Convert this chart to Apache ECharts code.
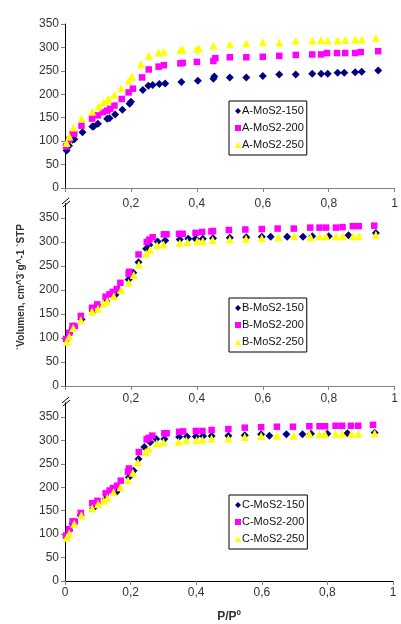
<!DOCTYPE html>
<html>
<head>
<meta charset="utf-8">
<script src="https://cdn.jsdelivr.net/npm/echarts@6/dist/echarts.min.js"></script>
<style>
html,body{margin:0;padding:0;background:#fff;}
#chart{width:401px;height:624px;}
</style>
</head>
<body>
<div id="chart"></div>
<script>
// ---- data: [P/P0, volume] ----
const A150 = [[0.005,80],[0.012,90],[0.023,103],[0.028,104],[0.053,119],[0.083,131],[0.087,131],[0.1,137],[0.128,148],[0.135,149],[0.152,157],[0.174,167],[0.196,180],[0.2,184],[0.236,209],[0.253,218],[0.266,220],[0.286,222],[0.304,223],[0.353,226],[0.403,229],[0.45,233],[0.453,238],[0.5,236],[0.55,236],[0.6,239],[0.65,242],[0.7,242],[0.75,244],[0.777,244],[0.797,244],[0.827,246],[0.847,246],[0.88,247],[0.9,248],[0.95,251]];
const A200 = [[0.003,89],[0.013,103],[0.023,116],[0.028,116],[0.05,133],[0.082,148],[0.1,155],[0.115,162],[0.128,165],[0.137,169],[0.15,176],[0.172,190],[0.193,204],[0.206,212],[0.234,236],[0.254,253],[0.284,259],[0.3,262],[0.35,266],[0.357,267],[0.4,269],[0.45,271],[0.456,277],[0.5,279],[0.55,279],[0.6,280],[0.65,282],[0.7,284],[0.75,285],[0.777,285],[0.795,288],[0.825,288],[0.85,288],[0.88,288],[0.897,290],[0.95,292]];
const A250 = [[0.005,96],[0.013,110],[0.025,129],[0.05,148],[0.082,163],[0.102,174],[0.117,183],[0.128,187],[0.133,190],[0.15,199],[0.17,213],[0.193,229],[0.203,238],[0.23,264],[0.254,282],[0.284,289],[0.3,291],[0.35,295],[0.357,295],[0.4,297],[0.407,297],[0.45,304],[0.5,307],[0.55,309],[0.6,311],[0.65,310],[0.7,314],[0.75,315],[0.777,316],[0.797,315],[0.827,315],[0.85,316],[0.88,317],[0.9,317],[0.943,320]];

const B150 = [[0.005,98],[0.013,110],[0.023,121],[0.05,139],[0.085,155],[0.1,167],[0.125,177],[0.153,190],[0.193,222],[0.207,236],[0.223,258],[0.246,286],[0.256,294],[0.281,301],[0.304,303],[0.348,305],[0.374,307],[0.396,307],[0.418,307],[0.449,308],[0.5,309],[0.55,310],[0.597,311],[0.624,311],[0.674,311],[0.722,311],[0.75,312],[0.8,312],[0.86,314],[0.943,319]];
const B200 = [[0.003,98],[0.013,111],[0.023,125],[0.03,125],[0.048,146],[0.082,163],[0.098,170],[0.123,186],[0.135,191],[0.145,196],[0.157,202],[0.168,215],[0.193,234],[0.195,238],[0.223,274],[0.248,300],[0.256,305],[0.266,310],[0.3,316],[0.308,316],[0.346,317],[0.357,317],[0.396,319],[0.416,321],[0.444,322],[0.449,323],[0.497,325],[0.547,326],[0.597,327],[0.645,328],[0.694,328],[0.744,330],[0.772,330],[0.792,330],[0.822,330],[0.842,331],[0.873,333],[0.891,333],[0.938,334]];
const B250 = [[0.005,92],[0.013,103],[0.025,121],[0.048,137],[0.082,155],[0.1,161],[0.117,172],[0.128,177],[0.148,187],[0.17,200],[0.193,215],[0.209,231],[0.224,253],[0.246,276],[0.258,284],[0.279,293],[0.299,295],[0.348,298],[0.371,300],[0.401,302],[0.418,302],[0.448,304],[0.5,305],[0.549,307],[0.597,308],[0.647,310],[0.695,312],[0.745,310],[0.772,312],[0.792,312],[0.822,312],[0.842,312],[0.873,312],[0.891,312],[0.943,315]];

const C150 = [[0.005,97],[0.013,108],[0.023,122],[0.048,140],[0.086,155],[0.124,175],[0.157,190],[0.195,221],[0.209,235],[0.224,260],[0.242,286],[0.26,296],[0.278,303],[0.303,303],[0.348,307],[0.372,308],[0.399,308],[0.421,309],[0.447,309],[0.498,310],[0.548,311],[0.598,313],[0.623,310],[0.675,313],[0.724,313],[0.75,314],[0.8,314],[0.861,315],[0.944,316]];
const C200 = [[0.003,97],[0.013,111],[0.023,127],[0.03,127],[0.048,145],[0.083,166],[0.099,171],[0.124,187],[0.136,193],[0.146,198],[0.159,203],[0.17,214],[0.192,233],[0.195,240],[0.225,275],[0.249,302],[0.255,305],[0.266,310],[0.303,315],[0.31,315],[0.348,318],[0.36,319],[0.399,320],[0.419,320],[0.447,322],[0.498,324],[0.548,327],[0.598,328],[0.646,329],[0.695,329],[0.745,330],[0.776,330],[0.793,330],[0.825,331],[0.845,331],[0.872,331],[0.894,331],[0.939,333]];
const C250 = [[0.005,92],[0.013,102],[0.028,122],[0.05,140],[0.083,155],[0.101,164],[0.118,171],[0.129,177],[0.148,189],[0.169,200],[0.192,215],[0.207,231],[0.222,253],[0.245,275],[0.255,282],[0.28,294],[0.3,296],[0.346,297],[0.37,300],[0.401,300],[0.419,301],[0.447,304],[0.498,304],[0.548,307],[0.598,309],[0.646,310],[0.697,310],[0.745,314],[0.776,313],[0.793,313],[0.825,314],[0.845,314],[0.873,314],[0.894,314],[0.944,315]];

const yTicks = [0,50,100,150,200,250,300,350];
const xTicksAll = [0,0.2,0.4,0.6,0.8,1];
const xTicksNoZero = [0.2,0.4,0.6,0.8,1];
const legendA = ['A-MoS2-150','A-MoS2-200','A-MoS2-250'];
const legendB = ['B-MoS2-150','B-MoS2-200','B-MoS2-250'];
const legendC = ['C-MoS2-150','C-MoS2-200','C-MoS2-250'];
const yTitle = '`Volumen, cm^3`g^-1 `STP';
const xTitle = 'P/P\u00BA';

const FONT = 'Liberation Sans, Arial, sans-serif';
const NAVY = '#000080', MAG = '#FF00FF', YEL = '#FFFF00';

function xFmt(v){
  if (Math.abs(v) < 1e-9) return '0';
  if (Math.abs(v-1) < 1e-9) return '1';
  return v.toFixed(1).replace('.', ',');
}

function xAxis(i, lineColor, labels, margin, extra){
  return Object.assign({
    type:'value', gridIndex:i, min:0, max:1, interval:0.2,
    axisLine:{show:true, onZero:false, lineStyle:{color:lineColor, width:1}},
    axisTick:{show:true, inside:false, length:4, lineStyle:{color:'#808080'}, customValues: xTicksAll},
    axisLabel:{color:'#333', fontFamily:FONT, fontSize:12, margin:margin, formatter:xFmt, customValues: labels},
    splitLine:{show:false}
  }, extra || {});
}
function yAxis(i, max){
  return {
    type:'value', gridIndex:i, min:0, max:max, interval:50,
    axisLine:{show:true, onZero:false, lineStyle:{color:'#000', width:1}},
    axisTick:{show:true, inside:false, length:4, lineStyle:{color:'#808080'}, customValues: yTicks},
    axisLabel:{color:'#333', fontFamily:FONT, fontSize:12, margin:6, customValues: yTicks},
    splitLine:{show:false}
  };
}
function ser(name, data, idx, color, symbol, size){
  return {
    name:name, type:'scatter', xAxisIndex:idx, yAxisIndex:idx, data:data,
    symbol:symbol, symbolSize:size,
    itemStyle:{color:color, opacity:1},
    emphasis:{disabled:true}, animation:false
  };
}
function legend(names, idx, top){
  return {
    data:names, orient:'vertical', left:229, top:top,
    backgroundColor:'#fff', borderColor:'#000', borderWidth:1,
    padding:[4,3,4,6], itemGap:5, itemWidth:6, itemHeight:6,
    textStyle:{fontFamily:FONT, fontSize:11, color:'#111', padding:[0,0,0,-4], lineHeight:12},
    selectedMode:false
  };
}
function brk(x, y){
  return {
    type:'group', x:x, y:y, children:[
      {type:'polygon', shape:{points:[[-4,3],[3,-3],[4,0],[-3,6]]}, style:{fill:'#fff', stroke:null}},
      {type:'line', shape:{x1:-4,y1:3,x2:3,y2:-3}, style:{stroke:'#000', lineWidth:1}},
      {type:'line', shape:{x1:-3,y1:6,x2:4,y2:0}, style:{stroke:'#000', lineWidth:1}}
    ]
  };
}

const chart = echarts.init(document.getElementById('chart'), null, {renderer:'canvas'});
chart.setOption({
  animation:false,
  backgroundColor:'#fff',
  grid:[
    {left:65, top:24, width:333, height:164},
    {left:65, top:203.6, width:331, height:182.4},
    {left:65, top:402.8, width:328, height:180.2}
  ],
  xAxis:[
    xAxis(0, '#808080', xTicksNoZero, 10),
    xAxis(1, '#808080', xTicksNoZero, 7),
    xAxis(2, '#000', xTicksAll, 6, {name:xTitle, nameLocation:'middle', nameGap:30,
      nameTextStyle:{fontFamily:FONT, fontSize:12, fontWeight:'bold', color:'#333'}})
  ],
  yAxis:[ yAxis(0,350), yAxis(1,380), yAxis(2,380) ],
  legend:[ legend(legendA,0,101), legend(legendB,1,298), legend(legendC,2,495) ],
  series:[
    ser(legendA[0], A150, 0, NAVY, 'diamond', 8),
    ser(legendA[1], A200, 0, MAG, 'rect', 6.5),
    ser(legendA[2], A250, 0, YEL, 'triangle', 8),
    ser(legendB[0], B150, 1, NAVY, 'diamond', 8),
    ser(legendB[1], B200, 1, MAG, 'rect', 6.5),
    ser(legendB[2], B250, 1, YEL, 'triangle', 8),
    ser(legendC[0], C150, 2, NAVY, 'diamond', 8),
    ser(legendC[1], C200, 2, MAG, 'rect', 6.5),
    ser(legendC[2], C250, 2, YEL, 'triangle', 8)
  ],
  graphic:[
    {type:'text', x:21, y:287, rotation:Math.PI/2,
      style:{text:yTitle, font:'bold 10px ' + FONT, fill:'#333', align:'center', verticalAlign:'middle'}},
    brk(66, 201),
    brk(66, 400)
  ]
});
</script>
</body>
</html>
